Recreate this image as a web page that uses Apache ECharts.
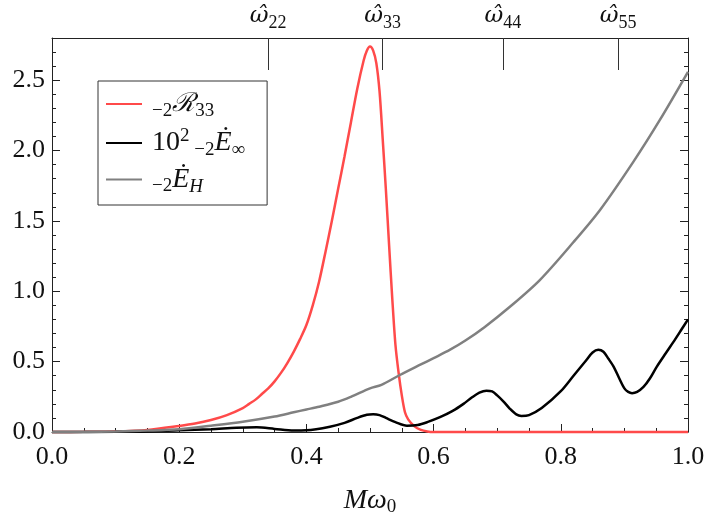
<!DOCTYPE html>
<html>
<head>
<meta charset="utf-8">
<script src="https://cdn.jsdelivr.net/npm/echarts@6/dist/echarts.min.js"></script>
<style>
  html, body { margin: 0; padding: 0; background: #fff; }
  #chart { width: 704px; height: 519px; }
</style>
</head>
<body>
<div id="chart"></div>
<script>
// Resonance factor -2R_33 versus M*omega_0
const redX = [0, 0.05, 0.1, 0.15, 0.2, 0.225, 0.25, 0.275, 0.3, 0.31, 0.32, 0.33, 0.34, 0.35, 0.36, 0.37, 0.38, 0.39, 0.4, 0.41, 0.42, 0.43, 0.44, 0.45, 0.46, 0.47, 0.48, 0.49, 0.495, 0.5, 0.505, 0.51, 0.515, 0.52, 0.525, 0.53, 0.535, 0.54, 0.545, 0.55, 0.555, 0.56, 0.57, 0.58, 0.59, 0.6, 0.7, 0.8, 0.9, 1.0];
const redY = [0, 0.001, 0.004, 0.015, 0.043, 0.06, 0.085, 0.12, 0.17, 0.2, 0.23, 0.27, 0.31, 0.36, 0.42, 0.49, 0.57, 0.66, 0.76, 0.9, 1.07, 1.28, 1.5, 1.73, 1.96, 2.2, 2.44, 2.64, 2.71, 2.74, 2.71, 2.62, 2.42, 2.08, 1.72, 1.33, 0.95, 0.62, 0.42, 0.26, 0.14, 0.09, 0.04, 0.015, 0.004, 0, 0, 0, 0, 0];

// Energy flux to infinity, scaled by 10^2
const blackX = [0, 0.1, 0.2, 0.25, 0.29, 0.322, 0.35, 0.38, 0.4, 0.437, 0.46, 0.48, 0.495, 0.505, 0.515, 0.525, 0.54, 0.558, 0.575, 0.59, 0.61, 0.63, 0.647, 0.66, 0.672, 0.683, 0.692, 0.7, 0.71, 0.72, 0.73, 0.738, 0.75, 0.77, 0.8, 0.82, 0.84, 0.85, 0.859, 0.867, 0.875, 0.883, 0.892, 0.9, 0.906, 0.912, 0.92, 0.93, 0.94, 0.951, 0.965, 0.98, 0.99, 1.0];
const blackY = [0, 0.001, 0.012, 0.02, 0.03, 0.033, 0.022, 0.01, 0.012, 0.038, 0.065, 0.1, 0.122, 0.126, 0.12, 0.1, 0.07, 0.045, 0.05, 0.07, 0.105, 0.15, 0.2, 0.245, 0.28, 0.294, 0.288, 0.26, 0.216, 0.165, 0.125, 0.114, 0.12, 0.17, 0.29, 0.4, 0.51, 0.565, 0.584, 0.57, 0.52, 0.465, 0.38, 0.31, 0.285, 0.276, 0.285, 0.32, 0.38, 0.465, 0.56, 0.66, 0.73, 0.8];

// Energy flux into the horizon
const grayX = [0, 0.05, 0.1, 0.15, 0.2, 0.25, 0.3, 0.35, 0.38, 0.4, 0.42, 0.45, 0.47, 0.5, 0.518, 0.547, 0.58, 0.6, 0.626, 0.65, 0.68, 0.72, 0.767, 0.82, 0.862, 0.914, 0.956, 1.0];
const grayY = [0, 0.001, 0.004, 0.01, 0.02, 0.045, 0.073, 0.11, 0.14, 0.16, 0.18, 0.215, 0.25, 0.31, 0.335, 0.405, 0.48, 0.525, 0.585, 0.65, 0.745, 0.89, 1.08, 1.35, 1.58, 1.92, 2.22, 2.56];

// Mode frequencies marked on the top axis
const modeFreq = [0.34, 0.52, 0.709, 0.89];
const modeLabels = ['22', '33', '44', '55'];

// Tick labels
const xMajor = [0, 0.2, 0.4, 0.6, 0.8, 1.0];
const yMajor = [0, 0.5, 1.0, 1.5, 2.0, 2.5];

// Minor tick positions: every 0.05 on x, every 0.1 on y
const xMinor = [];
for (let i = 0; i <= 20; i++) xMinor.push(+(i * 0.05).toFixed(2));
const yMinor = [];
for (let i = 0; i <= 27; i++) yMinor.push(+(i * 0.1).toFixed(1));

const seriesNames = ['R33', 'Einf', 'EH'];
const legendText = {
  R33: '{pad| }{sub|−2}{cal|ℛ}{sub|33}',
  Einf: '{pad| }{n|10}{sup|2}{sub| −2}{it|Ė}{sub|∞}',
  EH: '{pad| }{sub|−2}{it|Ė}{subit|H}'
};

const serif = 'Liberation Serif';
const ink = '#111';
const frame = '#222';
const minorLen = 4;
const majorLen = 8;

const pairs = (xs, ys) => xs.map((x, i) => [x, ys[i]]);

const richMath = {
  pad: { fontSize: 10, width: 5 },
  n: { fontFamily: serif, fontSize: 28, color: ink },
  it: { fontFamily: serif, fontSize: 28, fontStyle: 'italic', color: ink },
  cal: { fontFamily: 'DejaVu Serif', fontSize: 26, fontStyle: 'italic', color: ink },
  sub: { fontFamily: serif, fontSize: 19, color: ink, padding: [14, 0, 0, 0] },
  subit: { fontFamily: serif, fontSize: 19, fontStyle: 'italic', color: ink, padding: [14, 0, 0, 0] },
  sup: { fontFamily: serif, fontSize: 19, color: ink, padding: [0, 0, 14, 0] }
};

const chart = echarts.init(document.getElementById('chart'), null, { renderer: 'canvas' });

const lineSeries = (name, xs, ys, color) => ({
  name: name,
  type: 'line',
  xAxisIndex: 0,
  yAxisIndex: 0,
  data: pairs(xs, ys),
  showSymbol: false,
  symbol: 'none',
  smooth: 0.3,
  lineStyle: { color: color, width: 2.5 },
  itemStyle: { color: color },
  clip: false,
  animation: false,
  z: 3
});

const hiddenBits = { axisLabel: { show: false }, splitLine: { show: false } };

chart.setOption({
  backgroundColor: '#fff',
  animation: false,
  grid: { left: 52, right: 16, top: 38, bottom: 87, outerBoundsMode: 'none' },
  legend: {
    orient: 'vertical',
    left: 98,
    top: 81,
    data: seriesNames,
    icon: 'rect',
    itemWidth: 36,
    itemHeight: 2,
    itemGap: 6,
    padding: [10, 22, 9, 8],
    borderColor: '#333',
    borderWidth: 1,
    borderRadius: 0,
    backgroundColor: '#fff',
    formatter: name => legendText[name],
    textStyle: { rich: richMath, fontFamily: serif, fontSize: 28, color: ink }
  },
  xAxis: [
    {
      type: 'value', min: 0, max: 1, position: 'bottom',
      axisLine: { show: true, onZero: false, lineStyle: { color: frame, width: 1 } },
      axisTick: { show: true, inside: true, length: minorLen, customValues: xMinor, lineStyle: { color: frame, width: 1 } },
      axisLabel: {
        customValues: xMajor, formatter: v => v.toFixed(1), margin: 12,
        fontFamily: serif, fontSize: 26, color: ink
      },
      splitLine: { show: false },
      name: '{it|Mω}{sub|0}',
      nameLocation: 'middle',
      nameGap: 52,
      nameTextStyle: { rich: richMath }
    },
    Object.assign({
      type: 'value', min: 0, max: 1, position: 'bottom',
      axisLine: { show: false, onZero: false },
      axisTick: { show: true, inside: true, length: majorLen, customValues: xMajor, lineStyle: { color: frame, width: 1 } }
    }, hiddenBits),
    {
      type: 'value', min: 0, max: 1, position: 'top',
      axisLine: { show: true, onZero: false, lineStyle: { color: frame, width: 1 } },
      axisTick: { show: true, inside: true, length: 32, customValues: modeFreq, lineStyle: { color: '#333' } },
      axisLabel: {
        customValues: modeFreq, margin: 6,
        formatter: v => {
          const i = modeFreq.indexOf(v);
          return '{h|ω̂}{s|' + modeLabels[i] + '}';
        },
        rich: {
          h: { fontFamily: 'DejaVu Serif', fontSize: 23, fontStyle: 'italic', color: ink },
          s: { fontFamily: serif, fontSize: 18, color: ink, padding: [14, 0, 0, 0] }
        }
      },
      splitLine: { show: false }
    }
  ],
  yAxis: [
    {
      type: 'value', min: 0, max: 2.8, position: 'left',
      axisLine: { show: true, onZero: false, lineStyle: { color: frame, width: 1 } },
      axisTick: { show: true, inside: true, length: minorLen, customValues: yMinor, lineStyle: { color: frame, width: 1 } },
      axisLabel: {
        customValues: yMajor, formatter: v => v.toFixed(1), margin: 7,
        fontFamily: serif, fontSize: 26, color: ink
      },
      splitLine: { show: false }
    },
    Object.assign({
      type: 'value', min: 0, max: 2.8, position: 'left',
      axisLine: { show: false, onZero: false },
      axisTick: { show: true, inside: true, length: majorLen, customValues: yMajor, lineStyle: { color: frame, width: 1 } }
    }, hiddenBits),
    Object.assign({
      type: 'value', min: 0, max: 2.8, position: 'right',
      axisLine: { show: true, onZero: false, lineStyle: { color: frame, width: 1 } },
      axisTick: { show: true, inside: true, length: minorLen, customValues: yMinor, lineStyle: { color: frame, width: 1 } }
    }, hiddenBits),
    Object.assign({
      type: 'value', min: 0, max: 2.8, position: 'right',
      axisLine: { show: false, onZero: false },
      axisTick: { show: true, inside: true, length: majorLen, customValues: yMajor, lineStyle: { color: frame, width: 1 } }
    }, hiddenBits)
  ],
  series: [
    lineSeries('R33', redX, redY, '#ff4a4a'),
    lineSeries('Einf', blackX, blackY, '#000000'),
    lineSeries('EH', grayX, grayY, '#808080')
  ]
});
</script>
</body>
</html>
